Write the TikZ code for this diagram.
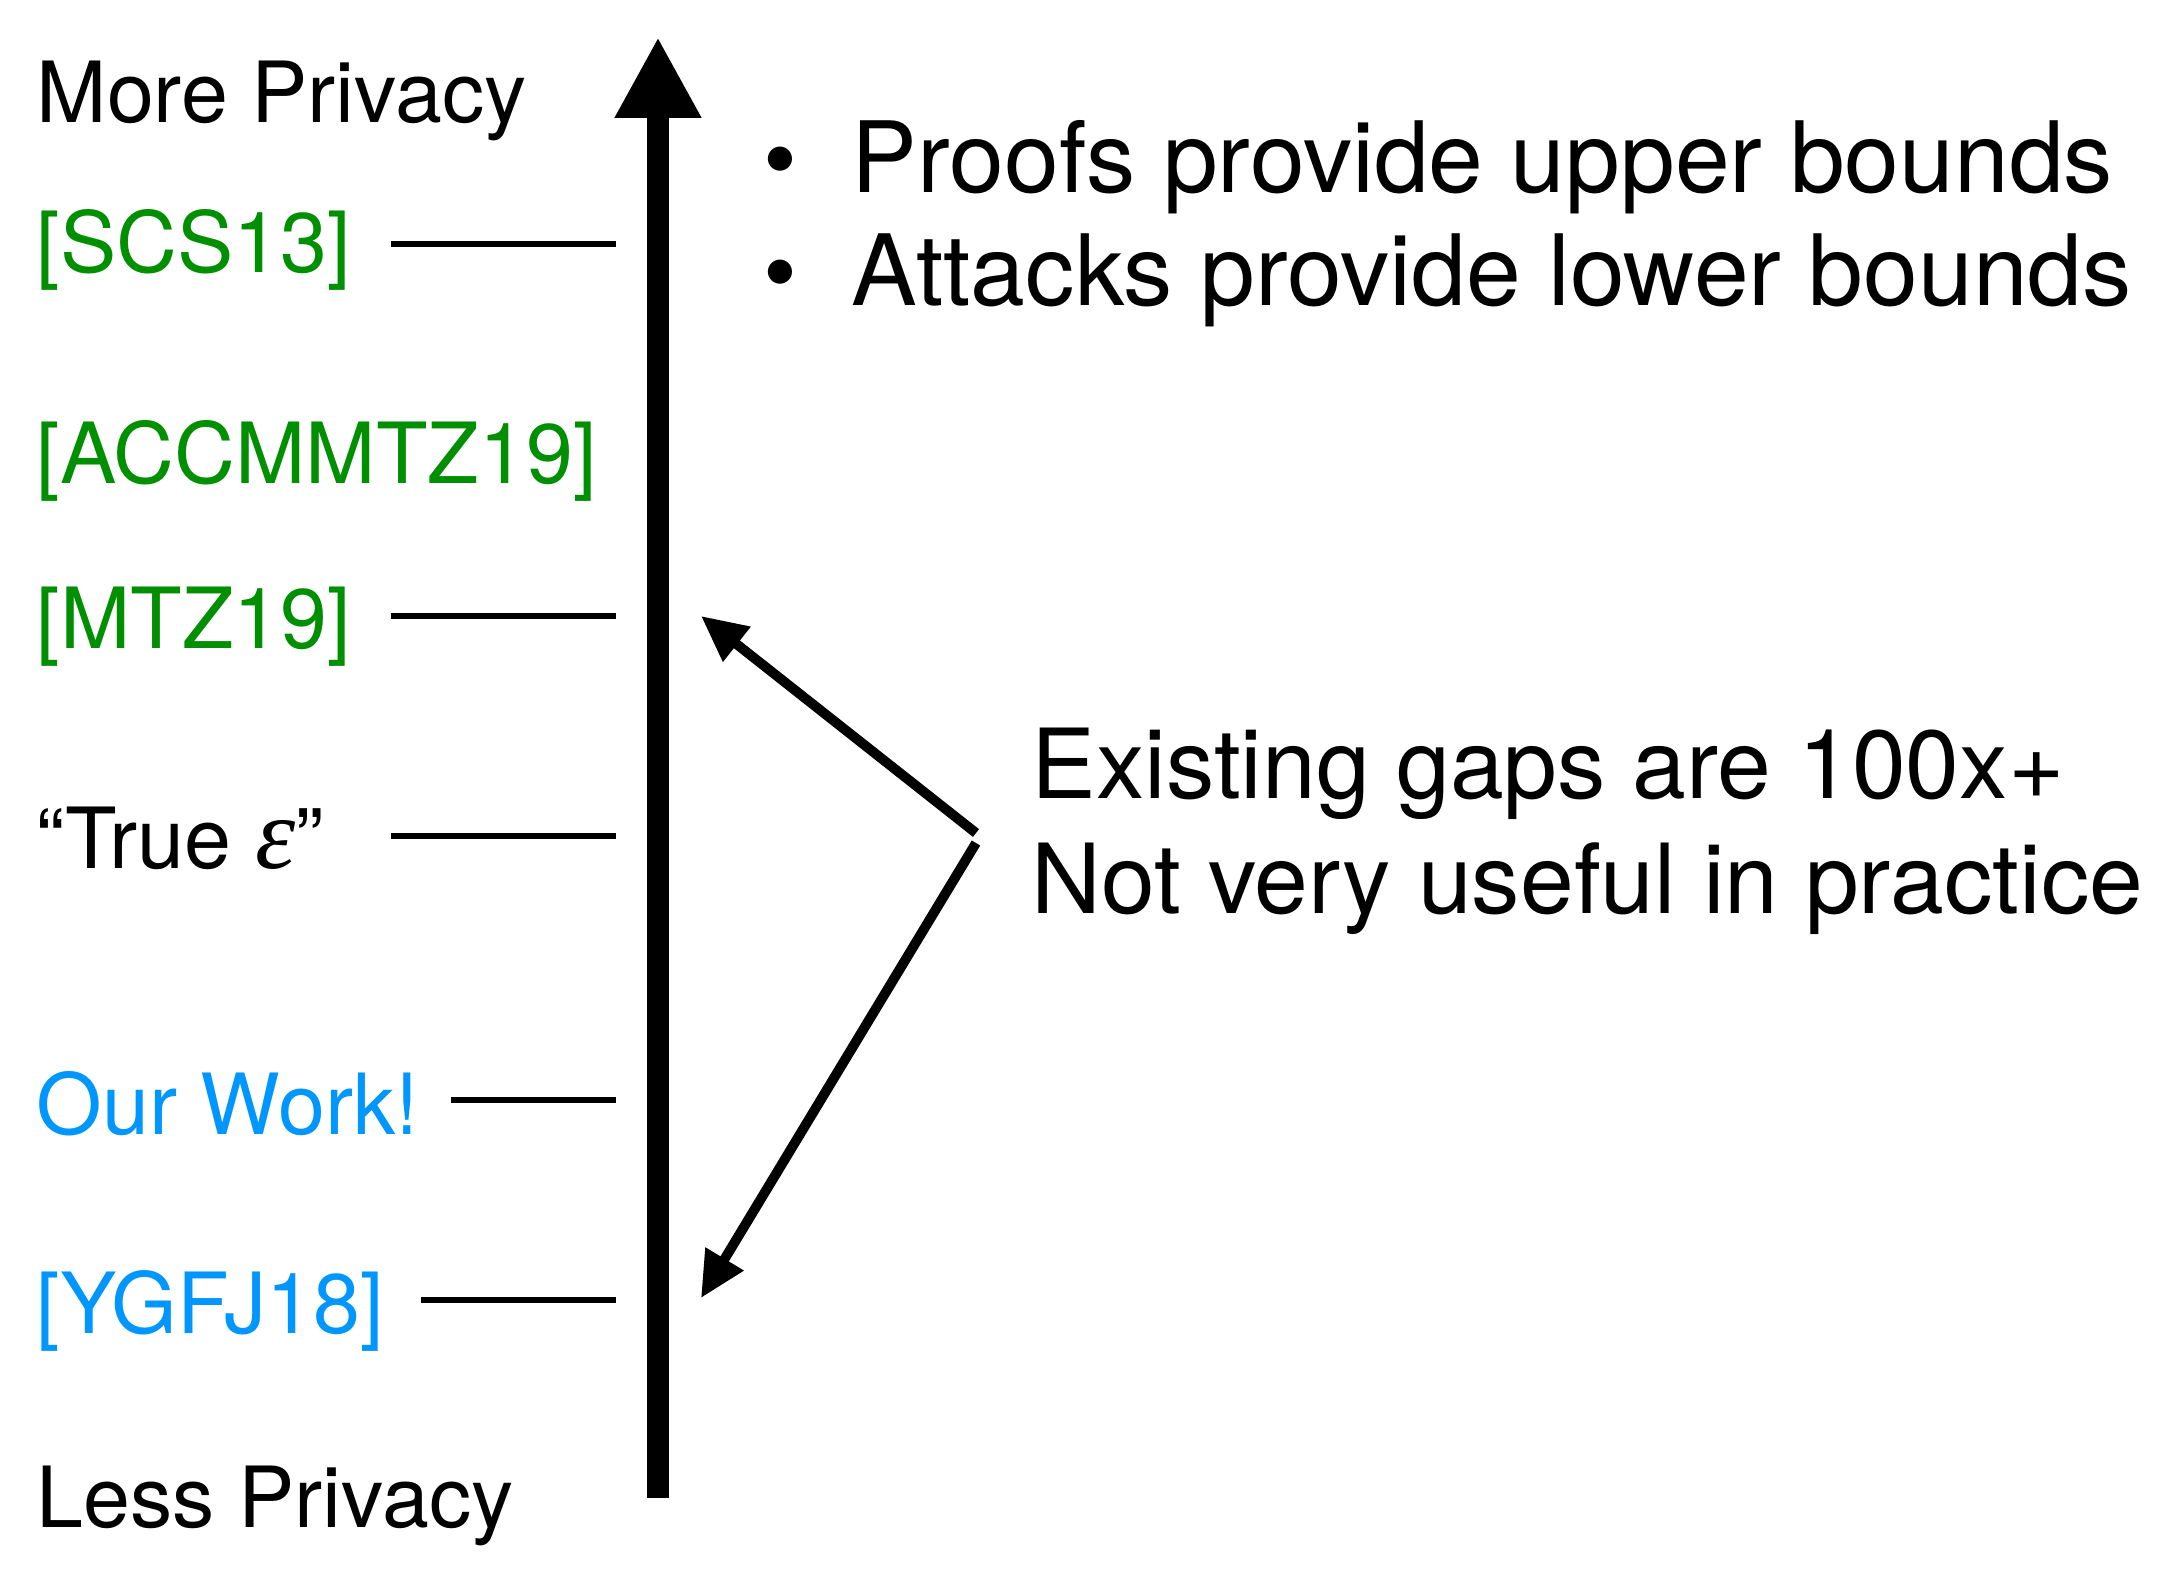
\documentclass[tikz,border=0pt]{standalone}
\usepackage{fontspec}
\setmainfont{TeX Gyre Heros}
\newfontfamily\epsfont{Liberation Serif}
\usetikzlibrary{arrows.meta}
\definecolor{refgreen}{RGB}{0,143,0}
\definecolor{ourblue}{RGB}{0,150,255}

\begin{document}
\begin{tikzpicture}[x=0.01cm,y=-0.01cm,
  lbl/.style = {anchor=base west,inner sep=0pt,font=\fontsize{24}{28}\selectfont},
  txt/.style = {anchor=base west,inner sep=0pt,font=\fontsize{27.5}{32}\selectfont},
  tick/.style = {line width=1.7pt},
  gap/.style = {line width=2.8pt,-{Triangle[length=13pt,width=12pt]}}]

\useasboundingbox (0,0) rectangle (2177,1568);

% privacy axis
\coordinate (bot) at (658,1498);
\coordinate (top) at (658,37);
\draw[line width=6pt,-{Triangle[length=23pt,width=23pt]}] (bot) -- (top);

\node[lbl] (more) at (36,122) {More Privacy};
\node[lbl] (less) at (36,1527) {Less Privacy};

\node[lbl,text=refgreen] (scs) at (36,272) {[SCS13]};
\node[lbl,text=refgreen] (accm) at (36,483) {[ACCMMTZ19]};
\node[lbl,text=refgreen] (mtz) at (36,648) {[MTZ19]};
\node[lbl] (true) at (36,868) {``True {\epsfont\itshape\fontsize{29}{28}\selectfont ε}''};
\node[lbl,text=ourblue] (ours) at (36,1134) {Our Work!};
\node[lbl,text=ourblue] (ygfj) at (36,1333) {[YGFJ18]};

% ticks
\coordinate (scs1) at (391,244);  \coordinate (scs2) at (616,244);
\coordinate (mtz1) at (391,616);  \coordinate (mtz2) at (616,616);
\coordinate (true1) at (391,836); \coordinate (true2) at (616,836);
\coordinate (ours1) at (451,1100); \coordinate (ours2) at (616,1100);
\coordinate (ygfj1) at (421,1300); \coordinate (ygfj2) at (616,1300);
\draw[tick] (scs1) -- (scs2);
\draw[tick] (mtz1) -- (mtz2);
\draw[tick] (true1) -- (true2);
\draw[tick] (ours1) -- (ours2);
\draw[tick] (ygfj1) -- (ygfj2);

% bounds
\node[txt,anchor=base] (b1) at (780,192) {•};
\node[txt,font=\fontsize{28}{32}\selectfont] (proofs) at (851,192) {Proofs provide upper bounds};
\node[txt,anchor=base] (b2) at (780,305) {•};
\node[txt,font=\fontsize{28}{32}\selectfont] (attacks) at (851,305) {Attacks provide lower bounds};

% gaps
\node[txt] (gaps) at (1031,798) {Existing gaps are 100x+};
\node[txt] (useful) at (1031,913) {Not very useful in practice};
\coordinate (from1) at (976,833);
\coordinate (from2) at (976,843);
\coordinate (to1) at (701,616);
\coordinate (to2) at (701,1298);
\draw[gap] (from1) -- (to1);
\draw[gap] (from2) -- (to2);

\end{tikzpicture}
\end{document}
